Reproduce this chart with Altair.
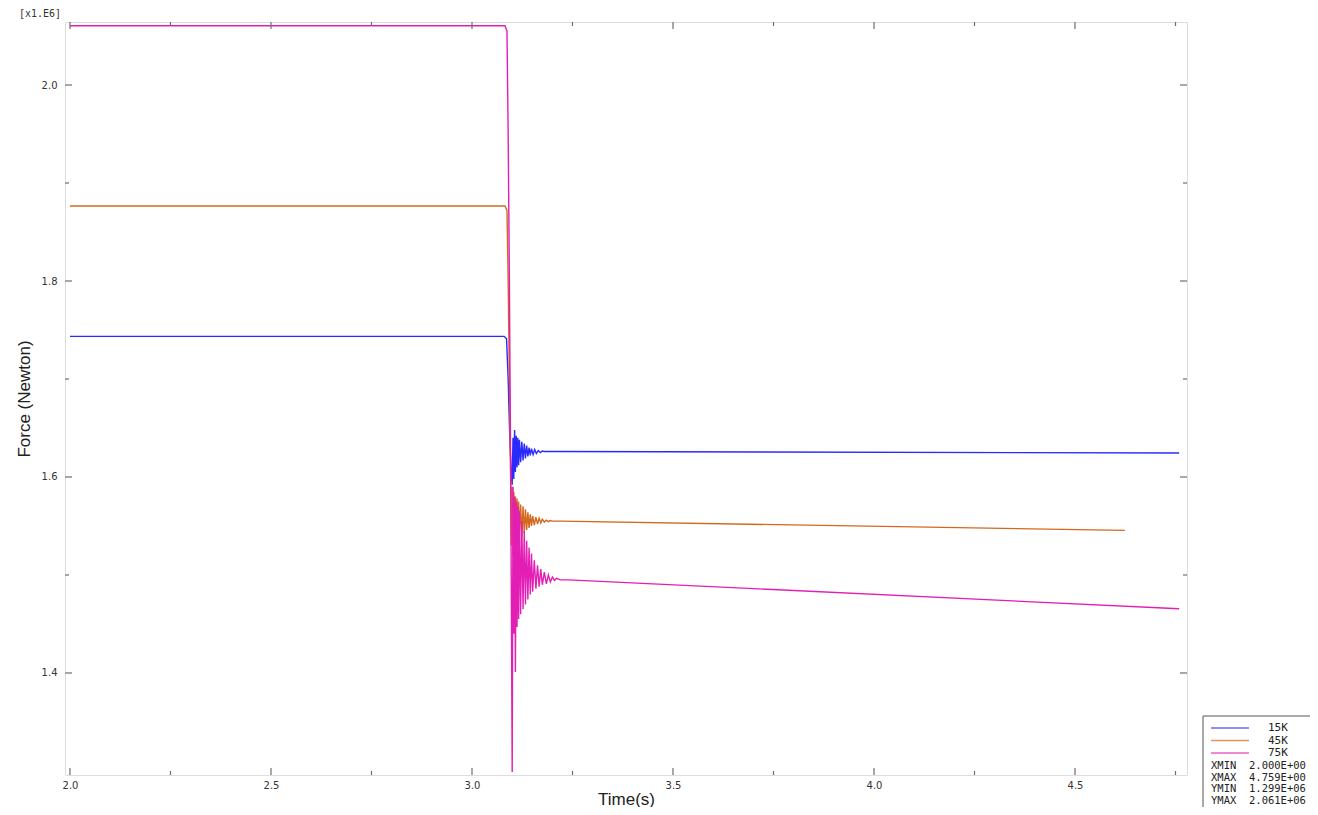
import altair as alt
import pandas as pd

# ---------------- data ----------------
t15 = [2.000, 3.080, 3.086, 3.090, 3.094, 3.098, 3.100, 3.102, 3.104, 3.106, 3.108,
       3.110, 3.112, 3.114, 3.116, 3.118, 3.121, 3.124, 3.127, 3.130, 3.133, 3.136,
       3.139, 3.142, 3.145, 3.148, 3.152, 3.156, 3.160, 3.165, 3.170, 3.175, 3.180,
       3.200, 4.759]
f15 = [1.7435, 1.7435, 1.741, 1.700, 1.640, 1.600, 1.592, 1.640, 1.598, 1.648, 1.605,
       1.642, 1.610, 1.640, 1.612, 1.638, 1.615, 1.636, 1.617, 1.634, 1.619, 1.632,
       1.621, 1.630, 1.622, 1.629, 1.623, 1.628, 1.624, 1.627, 1.625, 1.6265, 1.626,
       1.626, 1.6245]

t45 = [2.000, 3.082, 3.087, 3.090, 3.093, 3.096, 3.098, 3.100, 3.102, 3.104, 3.106,
       3.108, 3.110, 3.112, 3.114, 3.116, 3.118, 3.121, 3.124, 3.127, 3.130, 3.133,
       3.136, 3.139, 3.142, 3.145, 3.148, 3.151, 3.155, 3.159, 3.163, 3.167, 3.171,
       3.175, 3.180, 3.185, 3.190, 3.195, 3.200, 3.220, 4.624]
f45 = [1.8765, 1.8765, 1.872, 1.800, 1.700, 1.600, 1.530, 1.590, 1.520, 1.585, 1.530,
       1.580, 1.532, 1.578, 1.535, 1.575, 1.538, 1.572, 1.540, 1.570, 1.543, 1.567,
       1.546, 1.564, 1.548, 1.562, 1.550, 1.560, 1.551, 1.559, 1.552, 1.558, 1.553,
       1.557, 1.554, 1.556, 1.5545, 1.5555, 1.555, 1.555, 1.5455]

t75 = [2.000, 3.082, 3.087, 3.090, 3.093, 3.096, 3.098, 3.100, 3.102, 3.104, 3.106,
       3.108, 3.110, 3.112, 3.114, 3.116, 3.118, 3.121, 3.124, 3.127, 3.130, 3.133,
       3.136, 3.139, 3.142, 3.145, 3.148, 3.151, 3.155, 3.159, 3.163, 3.167, 3.171,
       3.175, 3.180, 3.185, 3.190, 3.195, 3.200, 3.205, 3.210, 3.220, 3.240, 4.759]
f75 = [2.0605, 2.0605, 2.055, 1.950, 1.800, 1.620, 1.470, 1.299, 1.590, 1.440, 1.580,
       1.401, 1.575, 1.447, 1.570, 1.455, 1.565, 1.460, 1.555, 1.465, 1.545, 1.470,
       1.535, 1.475, 1.528, 1.480, 1.522, 1.483, 1.515, 1.486, 1.510, 1.488, 1.506,
       1.490, 1.503, 1.491, 1.500, 1.493, 1.498, 1.4945, 1.4965, 1.495, 1.495, 1.4655]

series_names = ["15K", "45K", "75K"]
series_colors = ["#2a2aff", "#d2691e", "#e21eb4"]

x_major = [2.0, 2.5, 3.0, 3.5, 4.0, 4.5]
x_minor = [2.25, 2.75, 3.25, 3.75, 4.25, 4.75]
y_major = [1.4, 1.6, 1.8, 2.0]
y_minor = [1.5, 1.7, 1.9]

stat_names = ["XMIN", "XMAX", "YMIN", "YMAX"]
stat_values = ["2.000E+00", "4.759E+00", "1.299E+06", "2.061E+06"]

# ---------------- layout ----------------
W, H = 1122, 753
X_DOM = [1.9876, 4.7786]
Y_DOM = [1.2959, 2.0643]
MAJ, MIN_ = 7, 4

rows = []
for name, ts, fs in zip(series_names, [t15, t45, t75], [f15, f45, f75]):
    for t, f in zip(ts, fs):
        rows.append({"series": name, "t": t, "f": f})
df = pd.DataFrame(rows)

xs = alt.Scale(domain=X_DOM, nice=False, zero=False)
ys = alt.Scale(domain=Y_DOM, nice=False, zero=False)

lines = alt.Chart(df).mark_line(strokeWidth=1.4, clip=True).encode(
    x=alt.X("t:Q", scale=xs, title="Time(s)",
            axis=alt.Axis(values=x_major, format=".1f", ticks=False, domain=False,
                          grid=False, labelFont="DejaVu Sans", labelFontSize=10,
                          labelColor="#333333", labelPadding=5,
                          titleFont="Liberation Sans", titleFontSize=17,
                          titleFontWeight="normal", titleColor="#222222",
                          titlePadding=1)),
    y=alt.Y("f:Q", scale=ys, title="Force (Newton)",
            axis=alt.Axis(values=y_major, format=".1f", ticks=False, domain=False,
                          grid=False, labelFont="DejaVu Sans", labelFontSize=10,
                          labelColor="#333333", labelPadding=8,
                          titleFont="Liberation Sans", titleFontSize=17,
                          titleFontWeight="normal", titleColor="#222222",
                          titlePadding=8)),
    color=alt.Color("series:N", scale=alt.Scale(domain=series_names, range=series_colors),
                    legend=None),
    detail="series:N",
)

tick_color = "#6e6e6e"


def xticks(vals, length, top):
    base = alt.Chart(pd.DataFrame({"v": vals})).mark_rule(color=tick_color, strokeWidth=1.2)
    if top:
        return base.encode(x=alt.X("v:Q", scale=xs), y=alt.value(0), y2=alt.value(length))
    return base.encode(x=alt.X("v:Q", scale=xs), y=alt.value(H), y2=alt.value(H - length))


def yticks(vals, length, right):
    base = alt.Chart(pd.DataFrame({"v": vals})).mark_rule(color=tick_color, strokeWidth=1.2)
    if right:
        return base.encode(y=alt.Y("v:Q", scale=ys), x=alt.value(W), x2=alt.value(W - length))
    return base.encode(y=alt.Y("v:Q", scale=ys), x=alt.value(0), x2=alt.value(length))


tick_layers = [xticks(x_major, MAJ, False), xticks(x_minor, MIN_, False),
               xticks(x_major, MAJ, True), xticks(x_minor, MIN_, True),
               yticks(y_major, MAJ, False), yticks(y_minor, MIN_, False),
               yticks(y_major, MAJ, True), yticks(y_minor, MIN_, True)]

# exponent label
expo = alt.Chart(pd.DataFrame({"s": ["[x1.E6]"]})).mark_text(
    font="DejaVu Sans Mono", fontSize=10, color="#333333", align="center", baseline="middle"
).encode(text="s:N", x=alt.value(-25), y=alt.value(-8))

# custom legend box
LX, LY = W + 16, 694
box = alt.Chart(pd.DataFrame({"a": [0]})).mark_rect(
    fill="white", stroke="#555555", strokeWidth=1
).encode(x=alt.value(LX), x2=alt.value(LX + 140), y=alt.value(LY), y2=alt.value(LY + 120))

legend_layers = []
for k, (name, col) in enumerate(zip(series_names, series_colors)):
    yy = LY + 12 + 12.5 * k
    legend_layers.append(
        alt.Chart(pd.DataFrame({"s": [name]})).mark_rule(color=col, strokeWidth=1.5, opacity=0.7)
        .encode(x=alt.value(LX + 8), x2=alt.value(LX + 46), y=alt.value(yy))
    )
    legend_layers.append(
        alt.Chart(pd.DataFrame({"s": [name]})).mark_text(
            font="DejaVu Sans Mono", fontSize=11, color="#222222", align="left", baseline="middle")
        .encode(text="s:N", x=alt.value(LX + 65), y=alt.value(yy))
    )
for k, (n, v) in enumerate(zip(stat_names, stat_values)):
    yy = LY + 50 + 11.5 * k
    legend_layers.append(
        alt.Chart(pd.DataFrame({"s": [n]})).mark_text(
            font="DejaVu Sans Mono", fontSize=10.5, color="#222222", align="left", baseline="middle")
        .encode(text="s:N", x=alt.value(LX + 8), y=alt.value(yy))
    )
    legend_layers.append(
        alt.Chart(pd.DataFrame({"s": [v]})).mark_text(
            font="DejaVu Sans Mono", fontSize=10.5, color="#222222", align="left", baseline="middle")
        .encode(text="s:N", x=alt.value(LX + 46), y=alt.value(yy))
    )

chart = alt.layer(
    lines, *tick_layers, expo, box, *legend_layers
).properties(
    width=W, height=H,
    autosize=alt.AutoSizeParams(type="none"),
    padding={"left": 57, "top": 14, "right": 123, "bottom": 32},
).configure_view(
    stroke="#6e6e6e", strokeWidth=1.5
).configure(background="white")

chart.save("out.html", embed_options={"renderer": "svg", "actions": False})
